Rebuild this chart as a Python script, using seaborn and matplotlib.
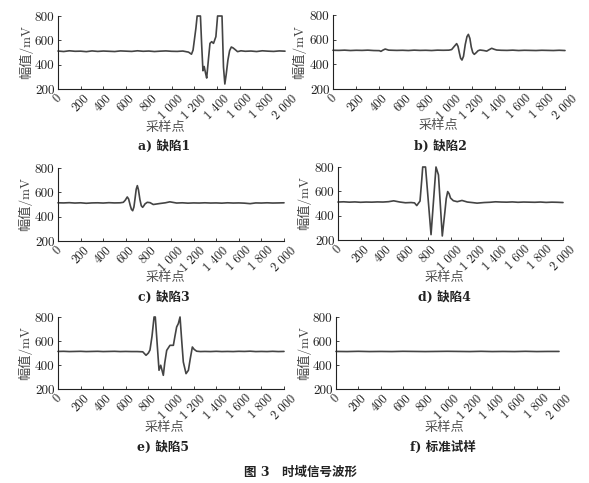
import matplotlib
matplotlib.use("Agg")
import matplotlib.pyplot as plt
import pandas as pd
import seaborn as sns

# ---------------- data ----------------
x_ticks = [0, 200, 400, 600, 800, 1000, 1200, 1400, 1600, 1800, 2000]
x_tick_labels = ["0", "200", "400", "600", "800", "1 000", "1 200", "1 400",
                 "1 600", "1 800", "2 000"]
y_ticks = [200, 400, 600, 800]

captions = ["a) 缺陷1", "b) 缺陷2", "c) 缺陷3", "d) 缺陷4", "e) 缺陷5", "f) 标准试样"]

xa = [0, 50, 100, 150, 200, 250, 300, 350, 400, 450, 500, 550, 600, 650, 700,
      750, 800, 850, 900, 950, 1000, 1050, 1100, 1150, 1176, 1190, 1215, 1226,
      1255, 1266, 1277, 1288, 1300, 1310, 1325, 1339, 1354, 1370, 1391, 1406,
      1445, 1458, 1470, 1482, 1497, 1512, 1527, 1542, 1558, 1582, 1612, 1650,
      1700, 1750, 1800, 1850, 1900, 1950, 2000]
ya = [512, 508, 514, 510, 511, 507, 513, 509, 512, 510, 508, 513, 511, 509, 514,
      510, 512, 508, 511, 513, 510, 509, 512, 503, 486, 520, 700, 800,
      800, 560, 350, 385, 330, 290, 440, 575, 589, 575, 630, 800,
      800, 380, 241, 320, 438, 515, 545, 538, 526, 507, 514, 510,
      512, 508, 514, 511, 509, 513, 511]

xb = [0, 50, 100, 150, 200, 250, 300, 350, 400, 413, 430, 450, 480, 550, 600,
      650, 700, 750, 800, 850, 900, 950, 1000, 1023, 1045, 1066, 1078, 1090,
      1100, 1112, 1125, 1140, 1155, 1167, 1180, 1192, 1205, 1218, 1235, 1250,
      1267, 1300, 1325, 1345, 1368, 1390, 1411, 1450, 1500, 1550, 1600, 1650,
      1700, 1750, 1800, 1850, 1900, 1950, 2000]
yb = [514, 513, 515, 512, 514, 513, 515, 512, 511, 505, 515, 524, 515, 513, 514,
      512, 515, 513, 514, 512, 515, 514, 515, 520, 545, 568, 545, 490,
      450, 435, 465, 560, 625, 643, 610, 540, 495, 481, 495, 510,
      516, 512, 507, 518, 530, 522, 516, 514, 513, 515, 512, 514,
      513, 512, 514, 513, 512, 514, 512]

xc = [0, 50, 100, 150, 200, 250, 300, 350, 400, 450, 500, 550, 578, 595, 613,
      625, 640, 650, 661, 672, 682, 692, 702, 712, 725, 737, 749, 760, 770, 790,
      815, 843, 900, 950, 990, 1050, 1100, 1150, 1200, 1250, 1300, 1350, 1400,
      1450, 1500, 1550, 1600, 1650, 1700, 1750, 1800, 1850, 1900, 1950, 2000]
yc = [514, 513, 515, 512, 514, 510, 513, 514, 512, 515, 513, 514, 518, 535, 562,
      545, 490, 460, 449, 480, 550, 625, 655, 620, 540, 490, 477, 490, 505, 518,
      515, 500, 508, 514, 522, 512, 514, 511, 513, 512, 514, 512, 513,
      511, 514, 512, 513, 511, 507, 513, 512, 514, 512, 513, 514]

xd = [0, 50, 100, 150, 200, 250, 300, 350, 400, 450, 495, 550, 600, 650, 680,
      700, 729, 745, 753, 778, 827, 871, 893, 927, 950, 962, 975, 988, 1000,
      1025, 1060, 1102, 1150, 1200, 1236, 1300, 1350, 1400, 1450, 1500, 1550,
      1600, 1650, 1700, 1750, 1800, 1850, 1900, 1950, 2000]
yd = [512, 514, 511, 513, 510, 512, 511, 513, 512, 515, 522, 512, 506, 508, 505,
      483, 520, 700, 800, 800, 244, 800, 735, 233, 430, 540, 598, 580, 545,
      523, 515, 525, 512, 507, 503, 508, 510, 514, 512, 511, 513,
      510, 512, 511, 510, 512, 509, 511, 510, 508]

xe = [0, 50, 100, 150, 200, 250, 300, 350, 400, 450, 500, 550, 600, 650, 700,
      750, 765, 779, 800, 814, 832, 850, 861, 894, 909, 932, 945, 962, 991,
      1021, 1035, 1050, 1065, 1080, 1095, 1109, 1133, 1154, 1170, 1189, 1205,
      1227, 1260, 1300, 1350, 1400, 1450, 1500, 1550, 1600, 1650, 1700, 1750,
      1800, 1850, 1900, 1950, 2000]
ye = [513, 514, 512, 513, 514, 512, 513, 514, 512, 513, 514, 512, 513, 512, 512,
      510, 495, 481, 500, 525, 640, 800, 800, 356, 398, 314, 420, 522, 564,
      564, 640, 717, 745, 800, 600, 425, 328, 356, 450, 550, 530,
      515, 512, 513, 512, 514, 512, 513, 512, 514, 513, 515, 512,
      513, 512, 514, 512, 513]

xf = [0, 100, 200, 300, 400, 500, 600, 700, 800, 900, 1000, 1100, 1200, 1300,
      1400, 1500, 1600, 1700, 1800, 1900, 2000]
yf = [513, 512, 514, 512, 513, 512, 514, 513, 512, 513, 514, 513, 512, 514,
      512, 513, 512, 514, 512, 513, 513]

series = [(xa, ya), (xb, yb), (xc, yc), (xd, yd), (xe, ye), (xf, yf)]

# ---------------- layout (pixel boxes in a 589x483 canvas) ----------------
W, H = 589, 483
# (left, top, right, bottom) of axes, xlabel centre, caption centre, ylabel x
layout = [
    ((58, 16, 285, 89), (165, 127), (164, 146), 26),
    ((333, 15, 565, 89), (438, 126), (440, 146), 299),
    ((58, 168, 284, 241), (165, 278), (164, 297), 25),
    ((338, 167, 563, 240), (444, 278), (444, 297), 304),
    ((58, 317, 284, 389), (164, 428), (163, 447), 25),
    ((336, 317, 559, 389), (444, 427), (443, 447), 304),
]

sns.set_theme(style="ticks")
plt.rcParams["font.family"] = ["cmr10", "Noto Sans CJK SC", "DejaVu Serif"]
plt.rcParams["axes.unicode_minus"] = False
plt.rcParams["axes.formatter.use_mathtext"] = True

fig = plt.figure(figsize=(W / 100, H / 100), dpi=100)
fig.patch.set_facecolor("white")

line_color = "#444444"
for (xs, ys), (box, xl, cap, ylx), captxt in zip(series, layout, captions):
    l, t, r, b = box
    ax = fig.add_axes([l / W, 1 - b / H, (r - l) / W, (b - t) / H])
    df = pd.DataFrame({"采样点": xs, "幅值": ys})
    sns.lineplot(data=df, x="采样点", y="幅值", ax=ax, color=line_color,
                 lw=1.2, clip_on=False)
    ax.set_xlim(0, 2000)
    ax.set_ylim(200, 800)
    ax.set_xticks(x_ticks)
    ax.set_xticklabels(x_tick_labels, rotation=45, ha="center",
                       fontsize=9)
    ax.set_yticks(y_ticks)
    ax.set_yticklabels([str(v) for v in y_ticks], fontsize=9.5)
    ax.tick_params(direction="in", length=2.5, width=0.6, pad=2.5,
                   colors="#222222")
    for s in ["top", "right"]:
        ax.spines[s].set_visible(False)
    for s in ["left", "bottom"]:
        ax.spines[s].set_linewidth(0.8)
        ax.spines[s].set_color("#222222")
    ax.set_facecolor("none")

    w, h = (r - l), (b - t)
    ax.set_xlabel("采样点", fontsize=9.5, color="#555555",
                  family=["Noto Sans CJK SC", "DejaVu Sans"])
    ax.xaxis.set_label_coords((xl[0] - l) / w, (b - xl[1]) / h)
    ax.xaxis.label.set_va("center")
    ax.set_ylabel("幅值/mV", fontsize=9.5, color="#444444",
                  family=["cmr10", "Noto Sans CJK SC"])
    ax.yaxis.set_label_coords((ylx - l) / w, 0.5)
    ax.yaxis.label.set_va("center")

    ax.text((cap[0] - l) / w, (b - cap[1]) / h, captxt, transform=ax.transAxes,
            ha="center", va="center", fontsize=9, fontweight="bold",
            family=["DejaVu Serif", "Noto Sans CJK SC"], color="#222222")

fig.text(300 / W, 1 - 472 / H, "图 3\u3000时域信号波形", ha="center", va="center",
         fontsize=9, fontweight="bold",
         family=["DejaVu Serif", "Noto Sans CJK SC"], color="#222222")

fig.savefig("out.png", dpi=100, facecolor="white")
